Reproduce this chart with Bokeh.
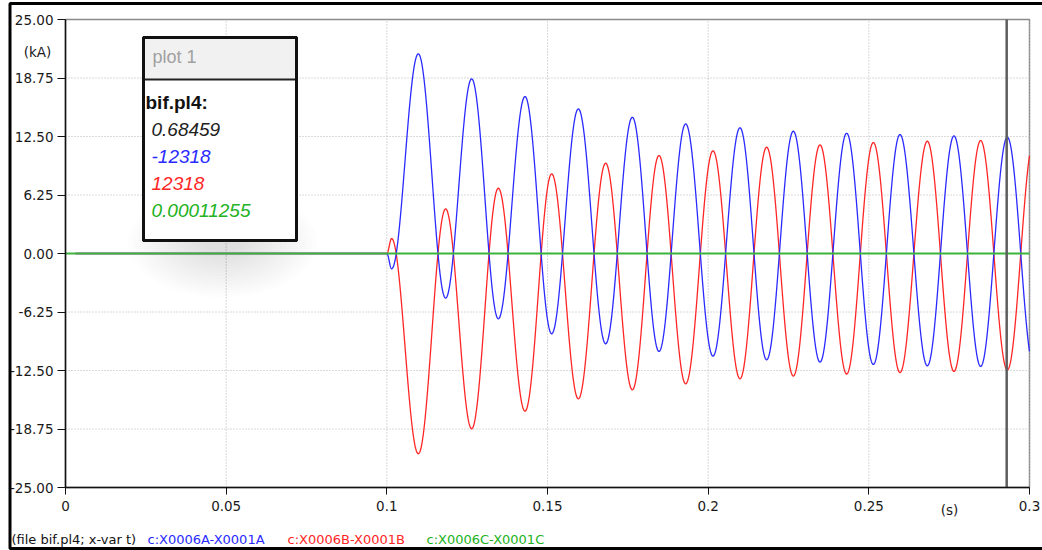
import numpy as np
from bokeh.plotting import figure
from bokeh.models import (Range1d, FixedTicker, PrintfTickFormatter, LinearAxis,
                          BoxAnnotation, Label)
from bokeh.embed import file_html
from bokeh.resources import INLINE

# ---------------- data ----------------
x_ticks = [0, 0.05, 0.1, 0.15, 0.2, 0.25, 0.3]
x_tick_labels = ["0", "0.05", "0.1", "0.15", "0.2", "0.25", "0.3"]
y_ticks = [-25, -18.75, -12.5, -6.25, 0, 6.25, 12.5, 18.75, 25]

trace_start_t = 0.0031   # first plotted sample of phases A / B
# times of the successive extremes of the fault currents (s)
ext_t = [0.1000, 0.1015, 0.1098, 0.1183, 0.1264, 0.1347, 0.1430, 0.1513,
         0.1596, 0.1681, 0.1764, 0.1847, 0.1930, 0.2015, 0.2099, 0.2182,
         0.2265, 0.2348, 0.2431, 0.2514, 0.2597, 0.2682, 0.2765, 0.2848,
         0.2931, 0.3014]
# phase A current at those extremes (kA)
blue_ext = [0.0, -1.64, 21.33, -4.77, 18.66, -6.98, 16.77, -8.58, 15.45,
            -9.65, 14.56, -10.47, 13.85, -10.97, 13.43, -11.36, 13.07,
            -11.61, 12.85, -11.86, 12.71, -12.00, 12.57, -12.07, 12.43,
            -12.15]
# phase B current at those extremes (kA)
red_ext = [0.0, 1.60, -21.40, 4.77, -18.73, 6.98, -16.85, 8.51, -15.53,
           9.65, -14.57, 10.47, -13.93, 10.97, -13.39, 11.36, -13.10,
           11.61, -12.88, 11.86, -12.73, 12.00, -12.60, 12.07, -12.45,
           12.15]
# phase C current (kA)
green_t = [0.0, 0.3]
green_v = [0.0, 0.0]

cursor_t = 0.2929
legend_title = "plot 1"
legend_file = "bif.pl4:"
cursor_values = ["0.68459", "-12318", "12318", "0.00011255"]
series_names = ["c:X0006A-X0001A", "c:X0006B-X0001B", "c:X0006C-X0001C"]
footer_prefix = "(file bif.pl4; x-var t)"

W, H = 1042, 550
L, R, T, B = 65, 13, 19, 63          # plot area inside the canvas
xa, xb = x_ticks[0], x_ticks[-1]
ya, yb = y_ticks[0], y_ticks[-1]
fw, fh = W - L - R, H - T - B

# ---------------- helpers ----------------
def trace(start_t, times, values, end_t, n=40):
    xs = [start_t]
    ys = [values[0]]
    for i in range(len(times) - 1):
        ta, tb = times[i], times[i + 1]
        if ta >= end_t:
            break
        a, b = values[i], values[i + 1]
        f_end = min(1.0, (end_t - ta) / (tb - ta))
        f = np.linspace(0, f_end, max(3, int(n * f_end)))
        xs.extend(list(ta + (tb - ta) * f))
        ys.extend(list(a + (b - a) * (1 - np.cos(np.pi * f)) / 2))
    return xs, ys

bx, by = trace(trace_start_t, ext_t, blue_ext, xb)
rx, ry = trace(trace_start_t, ext_t, red_ext, xb)

def dx(px):
    return xa + (px - L) / fw * (xb - xa)

def dy(py):
    return yb - (py - T) / fh * (yb - ya)

# ---------------- figure (frame = whole canvas) ----------------
p = figure(width=W, height=H, output_backend="svg", toolbar_location=None,
           x_range=Range1d(dx(0), dx(W)), y_range=Range1d(dy(H), dy(0)),
           x_axis_location=None, y_axis_location=None, min_border=0)
p.background_fill_color = "white"
p.border_fill_color = "white"
p.outline_line_color = None
p.xgrid.visible = False
p.ygrid.visible = False

TICK_FONT = "DejaVu Sans"

# grid
p.segment(x0=x_ticks[1:], y0=ya, x1=x_ticks[1:], y1=yb, line_color="#b4b4b4",
          line_dash="1 2", line_width=1)
p.segment(x0=xa, y0=y_ticks[1:-1], x1=xb, y1=y_ticks[1:-1], line_color="#b4b4b4",
          line_dash="1 2", line_width=1)

# plot-area border (top / right visible in grey)
p.add_layout(BoxAnnotation(left=xa, right=xb, top=yb, bottom=ya, fill_alpha=0.0,
                           line_alpha=1.0, line_color="#8a8a8a", line_width=1.5,
                           level="underlay"))

# axes
yaxis = LinearAxis(fixed_location=xa, ticker=FixedTicker(ticks=y_ticks),
                   formatter=PrintfTickFormatter(format="%.2f"), bounds=(ya, yb))
xaxis = LinearAxis(fixed_location=ya, ticker=FixedTicker(ticks=x_ticks),
                   bounds=(xa, xb))
xaxis.major_label_overrides = {t: s for t, s in zip(x_ticks, x_tick_labels)}
for ax in (xaxis, yaxis):
    ax.axis_line_color = "#111111"
    ax.axis_line_width = 1.5
    ax.major_tick_line_color = "#111111"
    ax.major_tick_line_width = 1
    ax.minor_tick_line_color = None
    ax.major_tick_in = 0
    ax.major_label_text_font = TICK_FONT
    ax.major_label_text_font_size = "13.5px"
    ax.major_label_text_color = "#1a1a1a"
xaxis.major_tick_out = 7
xaxis.major_label_standoff = 6
yaxis.major_tick_out = 8
yaxis.major_label_standoff = 4
p.add_layout(yaxis, "left")
p.add_layout(xaxis, "below")

# soft shadow below the info box
sh_x, sh_y = dx(222), dy(242)
for k in range(16):
    w_ = 190 - k * 10
    h_ = 110 - k * 6
    p.ellipse(x=[sh_x], y=[sh_y], width=w_, height=h_, width_units="screen",
              height_units="screen", fill_color="black", fill_alpha=0.009,
              line_color=None)

# curves
p.line(rx, ry, line_color="#ff2626", line_width=1.3)
p.line(bx, by, line_color="#2a2aff", line_width=1.3)
p.line(green_t, green_v, line_color="#3cb43c", line_width=1.8)

# cursor
p.segment(x0=[cursor_t], y0=[ya], x1=[cursor_t], y1=[yb], line_color="#5e5e5e",
          line_width=2.5)

# info box
p.add_layout(BoxAnnotation(left=dx(143), right=dx(296), top=dy(37), bottom=dy(240),
                           fill_color="white", fill_alpha=1.0, line_alpha=1.0,
                           line_color="#111111", line_width=3))
p.add_layout(BoxAnnotation(left=dx(143), right=dx(296), top=dy(37), bottom=dy(79),
                           fill_color="#f1f1f1", fill_alpha=1.0, line_alpha=1.0,
                           line_color="#222222", line_width=2))
p.add_layout(BoxAnnotation(left=dx(143), right=dx(296), top=dy(37), bottom=dy(240),
                           fill_alpha=0.0, line_alpha=1.0, line_color="#111111",
                           line_width=3))

p.add_layout(Label(x=dx(152), y=dy(56), text=legend_title, text_font="Liberation Sans",
                   text_font_size="18px", text_color="#a0a0a0", text_baseline="middle"))
p.add_layout(Label(x=dx(145), y=dy(102), text=legend_file, text_font="Liberation Sans",
                   text_font_size="19px", text_font_style="bold", text_color="#111111",
                   text_baseline="middle"))
val_colors = ["#222222", "#2a2aff", "#ff2626", "#22b222"]
val_y = [129, 156, 183, 210]
for txt, col, py in zip(cursor_values, val_colors, val_y):
    p.add_layout(Label(x=dx(151), y=dy(py), text=txt, text_font="Liberation Sans",
                       text_font_size="19px", text_font_style="italic",
                       text_color=col, text_baseline="middle"))

# axis units and footer
def tlabel(px, py, txt, col="#1a1a1a", align="left", size="13px"):
    p.add_layout(Label(x=dx(px), y=dy(py), text=txt, text_font=TICK_FONT,
                       text_font_size=size, text_color=col,
                       text_align=align, text_baseline="middle"))

tlabel(37, 51, "(kA)", align="center", size="13.5px")
tlabel(949, 509, "(s)", align="center", size="13.5px")
tlabel(11, 539, footer_prefix, col="#111111")
for txt, col, px in zip(series_names, ["#2a2aff", "#ff2626", "#22b222"], [147, 287, 426]):
    tlabel(px, 539, txt, col=col)

# outer window frame (its right side lies beyond the picture)
p.add_layout(BoxAnnotation(left=dx(9.5), right=dx(1080), top=dy(3), bottom=dy(548),
                           fill_alpha=0.0, line_alpha=1.0, line_color="black",
                           line_width=3))

open("out.html", "w").write(file_html(p, INLINE))
